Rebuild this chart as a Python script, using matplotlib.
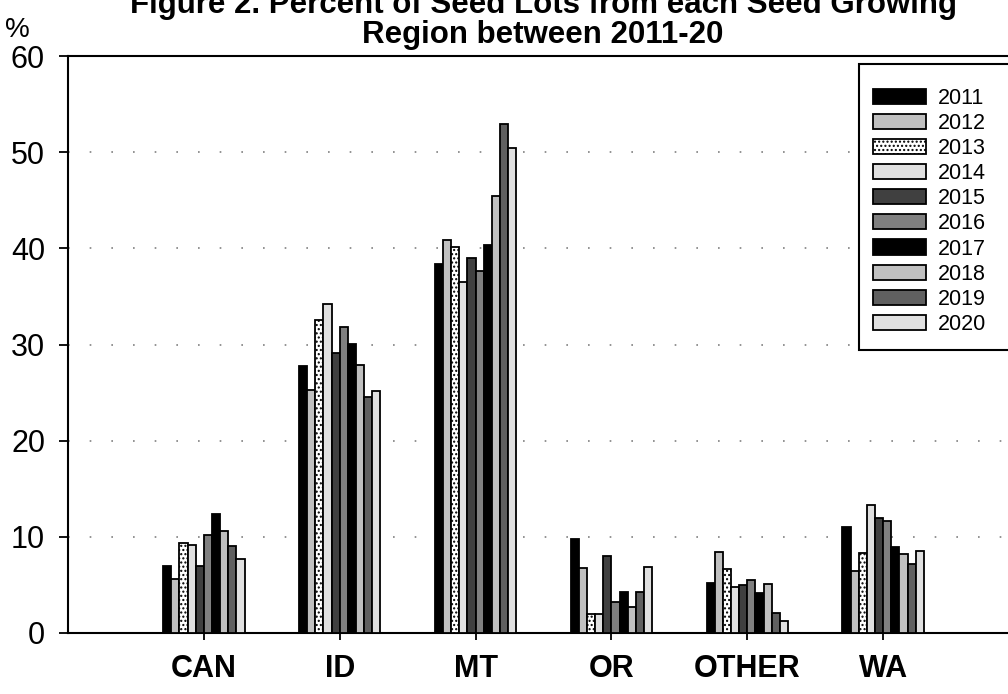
import numpy as np
import matplotlib
matplotlib.use('Agg')
import matplotlib.pyplot as plt
from matplotlib.patches import Rectangle

plt.rcParams['font.family'] = ['Liberation Sans', 'DejaVu Sans']
plt.rcParams['hatch.linewidth'] = 1.0
plt.rcParams['hatch.color'] = '#555555'

regions = ['CAN', 'ID', 'MT', 'OR', 'OTHER', 'WA']
years = ['2011', '2012', '2013', '2014', '2015', '2016', '2017', '2018', '2019', '2020']

# percent of seed lots, one list per year (CAN, ID, MT, OR, OTHER, WA)
y2011 = [7.0, 27.8, 38.4, 9.8, 5.2, 11.0]
y2012 = [5.6, 25.3, 40.9, 6.8, 8.4, 6.4]
y2013 = [9.4, 32.5, 40.1, 2.0, 6.7, 8.3]
y2014 = [9.2, 34.2, 36.5, 2.0, 4.8, 13.3]
y2015 = [7.0, 29.1, 39.0, 8.0, 5.0, 12.0]
y2016 = [10.2, 31.8, 37.6, 3.2, 5.5, 11.6]
y2017 = [12.4, 30.1, 40.3, 4.3, 4.2, 8.9]
y2018 = [10.6, 27.9, 45.4, 2.7, 5.1, 8.2]
y2019 = [9.0, 24.5, 52.9, 4.3, 2.1, 7.2]
y2020 = [7.7, 25.2, 50.4, 6.9, 1.2, 8.5]
values = [y2011, y2012, y2013, y2014, y2015, y2016, y2017, y2018, y2019, y2020]

colors = ['#000000', '#c0c0c0', '#ffffff', '#e0e0e0', '#404040',
          '#808080', '#000000', '#c0c0c0', '#606060', '#e0e0e0']
hatches = [None, None, '....', None, None, None, None, None, None, None]

fig = plt.figure(figsize=(10.08, 6.94), dpi=100)
ax = fig.add_axes([68/1008, 61/694, 951/1008, 577/694])

x = np.arange(len(regions))
w = 0.06
for j, yr in enumerate(years):
    ax.bar(x + (j - 4.5) * w, values[j], width=w, color=colors[j],
           edgecolor='black', linewidth=1.3, hatch=hatches[j], label=yr, zorder=3)

ax.set_xlim(-1, 6)
ax.set_ylim(0, 60)
ax.set_yticks(range(0, 61, 10))
ax.set_xticks(x)
ax.set_xticklabels(regions, fontsize=22, fontweight='bold')
ax.tick_params(axis='y', labelsize=22, length=6.5, width=1.3, pad=10)
ax.tick_params(axis='x', length=5, width=1.3, pad=10)

ax.yaxis.grid(True, color='#808080', linestyle=(0, (1, 12)), linewidth=1.2, zorder=0)
for s in ['left', 'top', 'bottom']:
    ax.spines[s].set_linewidth(1.5)
ax.spines['right'].set_visible(False)

# legend box runs past the right edge of the picture
box = Rectangle((859/1008, 1 - 350/694), 0.2, 286/694, transform=fig.transFigure,
                facecolor='white', edgecolor='black', linewidth=1.5, zorder=4,
                clip_on=False)
ax.add_patch(box)
leg = ax.legend(loc='upper left', bbox_to_anchor=(873/1008, 1 - 88/694),
                bbox_transform=fig.transFigure, fontsize=15.5, frameon=False,
                borderaxespad=0, borderpad=0, handlelength=2.45, handleheight=0.7,
                labelspacing=0.19, handletextpad=0.55)
leg.set_zorder(5)

fig.text(17/1008, 1 - 30/694, '%', fontsize=20, ha='center', va='center')
fig.text(543/1008, 1 - 13/694, 'Figure 2. Percent of Seed Lots from each Seed Growing',
         fontsize=22.5, fontweight='bold', ha='center', va='baseline')
fig.text(543/1008, 1 - 43/694, 'Region between 2011-20',
         fontsize=22.5, fontweight='bold', ha='center', va='baseline')

fig.savefig('out.png', dpi=100)
